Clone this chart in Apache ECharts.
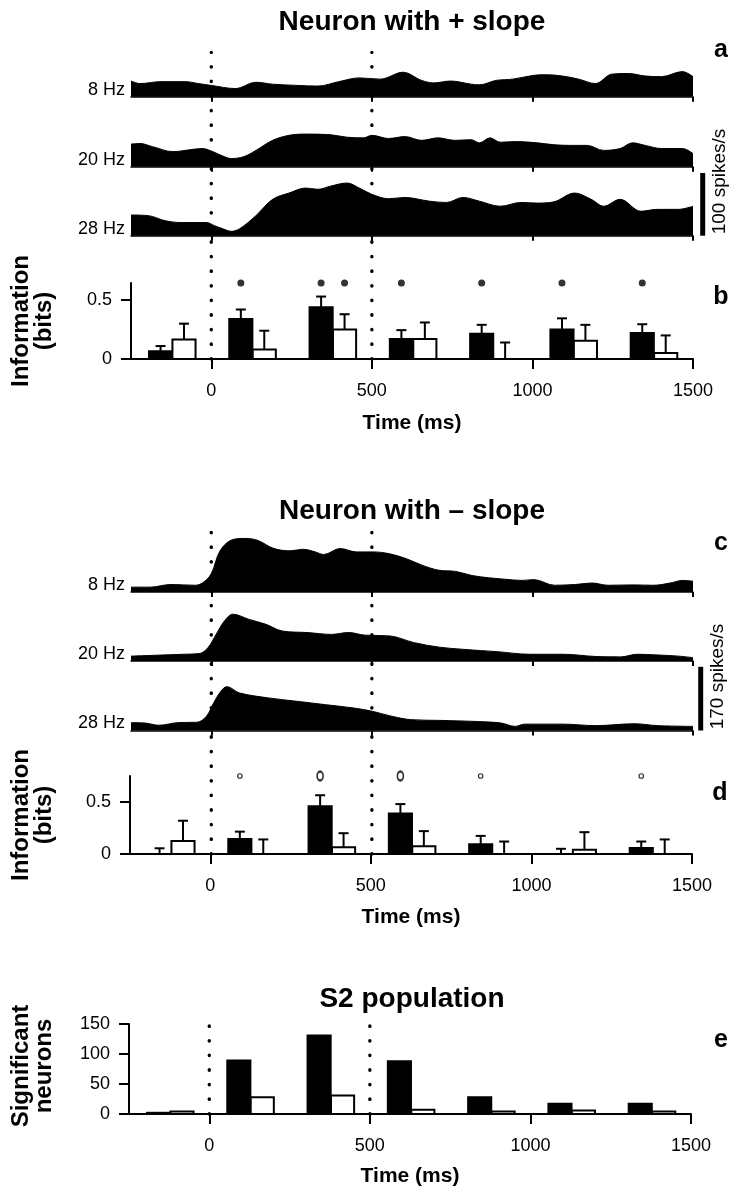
<!DOCTYPE html>
<html><head><meta charset="utf-8">
<script src="https://cdn.jsdelivr.net/npm/echarts@6/dist/echarts.min.js"></script>
<style>html,body{margin:0;padding:0;background:#fff}#c{width:747px;height:1199px}</style>
</head><body><div id="c"></div>
<script>
// ---------------- DATA ----------------
const timeTicks = [0, 500, 1000, 1500];
const stimLines = [0, 500];
const binStarts = [-250, 0, 250, 500, 750, 1000, 1250];

// Neuron with + slope: PSTH [time ms, spikes/s]
const ratePlus8 = [[-250,25],[-222,21],[-157,24],[-80,24],[-41,21],[0,18],[75,13],[139,23],[191,20],[268,18],[332,17],[397,24],[461,30],[526,28],[597,39],[655,26],[693,22],[745,25],[809,20],[835,19],[887,26],[938,28],[1003,34],[1041,35],[1093,33],[1144,28],[1196,21],[1247,36],[1299,37],[1351,33],[1402,32],[1467,40],[1500,32]];
const ratePlus20 = [[-250,36],[-222,37],[-183,32],[-119,24],[-67,27],[-28,29],[0,25],[36,17],[62,13],[101,16],[139,26],[191,42],[242,50],[294,52],[371,51],[423,47],[474,46],[500,50],[552,45],[603,48],[655,42],[706,46],[758,42],[809,43],[835,38],[868,46],[900,39],[951,40],[1016,38],[1067,35],[1119,34],[1170,34],[1222,26],[1273,29],[1312,38],[1351,34],[1402,29],[1467,29],[1500,21]];
const ratePlus28 = [[-250,33],[-196,32],[-144,24],[-93,21],[-15,21],[10,16],[36,11],[62,7],[88,11],[139,32],[191,58],[242,68],[294,76],[332,74],[371,79],[423,84],[461,76],[500,66],[552,59],[603,61],[680,55],[732,53],[784,61],[835,55],[900,47],[964,53],[1016,52],[1067,54],[1131,68],[1183,58],[1222,47],[1273,58],[1338,39],[1389,42],[1454,42],[1500,47]];

// Neuron with - slope
const rateMinus8 = [[-250,13],[-190,13],[-126,20],[-49,18],[-23,27],[0,49],[28,111],[67,140],[105,143],[144,138],[195,116],[247,110],[285,114],[324,107],[350,100],[401,116],[452,107],[504,107],[555,102],[607,89],[658,71],[709,58],[761,55],[812,44],[864,38],[915,34],[967,31],[1005,33],[1069,18],[1134,20],[1185,24],[1236,18],[1314,19],[1378,18],[1429,24],[1468,31],[1500,29]];
const rateMinus20 = [[-250,13],[-152,16],[-87,18],[-36,20],[-10,36],[15,71],[41,107],[67,125],[118,111],[170,98],[221,80],[298,76],[375,71],[427,76],[478,69],[555,67],[632,49],[709,37],[787,31],[889,25],[992,18],[1095,18],[1198,12],[1275,11],[1326,18],[1391,16],[1455,13],[1500,9]];
const rateMinus28 = [[-250,21],[-207,20],[-163,14],[-104,21],[-44,22],[-15,38],[7,73],[30,105],[48,117],[89,100],[178,87],[266,78],[355,69],[444,60],[503,51],[562,38],[621,29],[710,27],[828,24],[902,20],[946,11],[976,17],[1095,17],[1198,13],[1316,18],[1390,13],[1500,11]];

const scalePlus = 100;   // spikes/s
const scaleMinus = 170;  // spikes/s

// Information (bits) per bin: black = first bar, white = second bar
const infoPlusBlack    = [0.065, 0.34, 0.44, 0.17, 0.215, 0.25, 0.22];
const infoPlusBlackErr = [0.11, 0.42, 0.53, 0.245, 0.29, 0.345, 0.295];
const infoPlusWhite    = [0.165, 0.08, 0.25, 0.17, 0, 0.155, 0.05];
const infoPlusWhiteErr = [0.30, 0.24, 0.38, 0.31, 0.14, 0.29, 0.20];
const sigPlusBins  = [1, 2, 2, 3, 4, 5, 6];
const sigPlusKinds = ['black','black','white','black','black','black','black'];

const infoMinusBlack    = [0, 0.145, 0.46, 0.39, 0.094, 0, 0.058];
const infoMinusBlackErr = [0.055, 0.215, 0.565, 0.48, 0.174, 0.05, 0.12];
const infoMinusWhite    = [0.125, 0, 0.065, 0.074, 0, 0.04, 0];
const infoMinusWhiteErr = [0.32, 0.14, 0.20, 0.22, 0.12, 0.21, 0.14];
const sigMinusBins  = [1, 2, 3, 4, 6];
const sigMinusLarge = [false, true, true, false, false];

// S2 population: significant neurons
const popBlack = [2, 89, 131, 88, 28, 17, 17];
const popWhite = [4, 28, 31, 7, 4, 6, 4];

// ---------------- LAYOUT / STYLE ----------------
const FONT = "'Liberation Sans', Arial, Helvetica, sans-serif";
const BLACK_OFF = 92, WHITE_OFF = 165, BAR_W = 72;
const XMIN = -250, XMAX = 1500;
const plain = v => String(v);

const grids = [
  {left:131, right:54, top:52.4, height:306.6},  // 0 dotted a/b
  {left:131, right:54, top:34,   height:62.7},   // 1 + 8Hz
  {left:131, right:54, top:104,  height:62.7},   // 2 + 20Hz
  {left:131, right:54, top:173,  height:62.7},   // 3 + 28Hz
  {left:131, right:54, top:283,  height:76},     // 4 panel b
  {left:131, right:54, top:531.7,height:322.3},  // 5 dotted c/d
  {left:131, right:54, top:528.3,height:63.7},   // 6 - 8Hz
  {left:131, right:54, top:597.3,height:63.7},   // 7 - 20Hz
  {left:131, right:54, top:666.8,height:63.7},   // 8 - 28Hz
  {left:130, right:55, top:776,  height:78},     // 9 panel d
  {left:129, right:56, top:1025, height:89},     // 10 dotted e
  {left:129, right:56, top:1024, height:90}      // 11 panel e
];

const hiddenX = i => ({type:'value', gridIndex:i, min:XMIN, max:XMAX, show:false});
const rowX = i => ({type:'value', gridIndex:i, min:XMIN, max:XMAX,
  axisLine:{show:true, onZero:false, lineStyle:{color:'#000', width:1.5}},
  axisTick:{show:true, customValues:timeTicks, length:5, lineStyle:{color:'#000', width:2}},
  axisLabel:{show:false}, splitLine:{show:false}});
const panelX = i => ({type:'value', gridIndex:i, min:XMIN, max:XMAX,
  axisLine:{show:true, onZero:false, lineStyle:{color:'#000', width:2}},
  axisTick:{show:true, customValues:timeTicks, length:10, lineStyle:{color:'#000', width:2}},
  axisLabel:{show:true, customValues:timeTicks, formatter:plain, margin:23, color:'#000', fontSize:18, fontFamily:FONT},
  splitLine:{show:false}});
const hiddenY = (i, max) => ({type:'value', gridIndex:i, min:0, max:max, show:false});
const panelY = (i, max, ticks) => ({type:'value', gridIndex:i, min:0, max:max,
  axisLine:{show:true, onZero:false, lineStyle:{color:'#000', width:2}},
  axisTick:{show:true, customValues:ticks, length:10, lineStyle:{color:'#000', width:2}},
  axisLabel:{show:true, customValues:ticks, formatter:plain, margin:19, color:'#000', fontSize:18, fontFamily:FONT},
  splitLine:{show:false}});

const xAxes = [hiddenX(0), rowX(1), rowX(2), rowX(3), panelX(4), hiddenX(5), rowX(6), rowX(7), rowX(8), panelX(9), hiddenX(10), panelX(11)];
const yAxes = [hiddenY(0,1), hiddenY(1,scalePlus), hiddenY(2,scalePlus), hiddenY(3,scalePlus),
  panelY(4, 0.645, [0, 0.5]), hiddenY(5,1), hiddenY(6,scaleMinus), hiddenY(7,scaleMinus), hiddenY(8,scaleMinus),
  panelY(9, 0.75, [0, 0.5]), hiddenY(10,1), panelY(11, 150, [0, 50, 100, 150])];

function dottedSeries(gi) {
  return {type:'custom', xAxisIndex:gi, yAxisIndex:gi, z:1, silent:true, clip:false,
    data: stimLines.map(t => [t]),
    renderItem: (p, api) => {
      const b = api.coord([api.value(0), 0]), t = api.coord([api.value(0), 1]);
      return {type:'line', shape:{x1:b[0], y1:b[1], x2:t[0], y2:t[1]},
        style:{stroke:'#000', lineWidth:3.4, lineDash:[0.4, 14.2], lineCap:'round'}};
    }};
}
function areaSeries(gi, pts) {
  return {type:'line', xAxisIndex:gi, yAxisIndex:gi, data:pts, smooth:0.35, symbol:'none', silent:true, z:5,
    lineStyle:{color:'#000', width:1}, areaStyle:{color:'#000', opacity:1}};
}
function barSeries(gi, offset, vals, errs, fill) {
  return {type:'custom', xAxisIndex:gi, yAxisIndex:gi, z:5, silent:true, clip:false,
    data: binStarts.map((s, k) => [s + offset, vals[k], errs ? errs[k] : 0]),
    renderItem: (p, api) => {
      const x = api.value(0), v = api.value(1), e = api.value(2);
      const kids = [];
      const b0 = api.coord([x - BAR_W/2, 0]), b1 = api.coord([x + BAR_W/2, v]);
      if (v > 0) kids.push({type:'rect', shape:{x:b0[0], y:b1[1], width:b1[0]-b0[0], height:b0[1]-b1[1]},
        style:{fill:fill, stroke:'#000', lineWidth:2}});
      if (errs && e > v) {
        const c0 = api.coord([x, v]), c1 = api.coord([x, e]);
        kids.push({type:'line', shape:{x1:c0[0], y1:c0[1], x2:c1[0], y2:c1[1]}, style:{stroke:'#000', lineWidth:2}});
        kids.push({type:'line', shape:{x1:c1[0]-5, y1:c1[1], x2:c1[0]+5, y2:c1[1]}, style:{stroke:'#000', lineWidth:2}});
      }
      return {type:'group', children:kids};
    }};
}
function scaleBarSeries(gi, val, dx) {
  return {type:'custom', xAxisIndex:gi, yAxisIndex:gi, z:5, silent:true, clip:false,
    data:[[XMAX, val]],
    renderItem: (p, api) => {
      const a = api.coord([api.value(0), 0]), b = api.coord([api.value(0), api.value(1)]);
      return {type:'rect', shape:{x:a[0]+dx-2.5, y:b[1], width:5, height:a[1]-b[1]}, style:{fill:'#000'}};
    }};
}

const series = [
  dottedSeries(0), dottedSeries(5), dottedSeries(10),
  areaSeries(1, ratePlus8), areaSeries(2, ratePlus20), areaSeries(3, ratePlus28),
  areaSeries(6, rateMinus8), areaSeries(7, rateMinus20), areaSeries(8, rateMinus28),
  scaleBarSeries(3, scalePlus, 9.7), scaleBarSeries(8, scaleMinus, 7.7),
  barSeries(4, BLACK_OFF, infoPlusBlack, infoPlusBlackErr, '#000'),
  barSeries(4, WHITE_OFF, infoPlusWhite, infoPlusWhiteErr, '#fff'),
  barSeries(9, BLACK_OFF, infoMinusBlack, infoMinusBlackErr, '#000'),
  barSeries(9, WHITE_OFF, infoMinusWhite, infoMinusWhiteErr, '#fff'),
  barSeries(11, BLACK_OFF, popBlack, null, '#000'),
  barSeries(11, WHITE_OFF, popWhite, null, '#fff'),
  {type:'scatter', xAxisIndex:4, yAxisIndex:4, z:6, silent:true, clip:false, symbolSize:7,
    itemStyle:{color:'#000'},
    data: sigPlusBins.map((b, k) => [binStarts[b] + (sigPlusKinds[k] === 'black' ? BLACK_OFF : WHITE_OFF), 0.645])},
  {type:'scatter', xAxisIndex:9, yAxisIndex:9, z:6, silent:true, clip:false, symbolSize:4.5,
    itemStyle:{color:'#fff', borderColor:'#000', borderWidth:1.2},
    data: sigMinusBins.filter((b, k) => !sigMinusLarge[k]).map(b => [binStarts[b] + BLACK_OFF, 0.75])},
  {type:'scatter', xAxisIndex:9, yAxisIndex:9, z:6, silent:true, clip:false, symbolSize:[6, 9],
    itemStyle:{color:'#fff', borderColor:'#000', borderWidth:2},
    data: sigMinusBins.filter((b, k) => sigMinusLarge[k]).map(b => [binStarts[b] + BLACK_OFF, 0.75])}
];

function txt(text, x, y, opt) {
  opt = opt || {};
  return {type:'text', x:x, y:y, rotation:opt.rot || 0, z:10, silent:true,
    style:{text:text, fill:'#000', align:opt.align || 'center', verticalAlign:'middle',
      font:(opt.weight || 'normal') + ' ' + (opt.size || 18) + 'px ' + FONT, lineHeight:opt.lh}};
}
const graphics = [
  txt('Neuron with + slope', 412, 22.5, {weight:'bold', size:28}),
  txt('Neuron with \u2013 slope', 412, 511.7, {weight:'bold', size:28}),
  txt('S2 population', 412, 999, {weight:'bold', size:28}),
  txt('a', 721, 50, {weight:'bold', size:25}),
  txt('b', 721, 297, {weight:'bold', size:25}),
  txt('c', 721, 543, {weight:'bold', size:25}),
  txt('d', 720, 793, {weight:'bold', size:25}),
  txt('e', 721, 1040, {weight:'bold', size:25}),
  txt('8 Hz', 125, 89.7, {align:'right'}),
  txt('20 Hz', 125, 159.7, {align:'right'}),
  txt('28 Hz', 125, 228.7, {align:'right'}),
  txt('8 Hz', 125, 585, {align:'right'}),
  txt('20 Hz', 125, 654, {align:'right'}),
  txt('28 Hz', 125, 723.5, {align:'right'}),
  txt('100 spikes/s', 720, 181.5, {rot:Math.PI/2, size:19}),
  txt('170 spikes/s', 718, 676.5, {rot:Math.PI/2, size:19}),
  txt('Information\n(bits)', 33, 321, {rot:Math.PI/2, weight:'bold', size:24, lh:23}),
  txt('Information\n(bits)', 33, 815, {rot:Math.PI/2, weight:'bold', size:24, lh:23}),
  txt('Significant\nneurons', 33, 1066, {rot:Math.PI/2, weight:'bold', size:24, lh:23}),
  txt('Time (ms)', 412, 423, {weight:'bold', size:21}),
  txt('Time (ms)', 411, 917, {weight:'bold', size:21}),
  txt('Time (ms)', 410, 1176, {weight:'bold', size:21})
];

const chart = echarts.init(document.getElementById('c'), null, {renderer:'canvas'});
chart.setOption({
  animation:false, backgroundColor:'#fff',
  grid:grids, xAxis:xAxes, yAxis:yAxes, series:series, graphic:graphics
});
</script>
</body></html>
